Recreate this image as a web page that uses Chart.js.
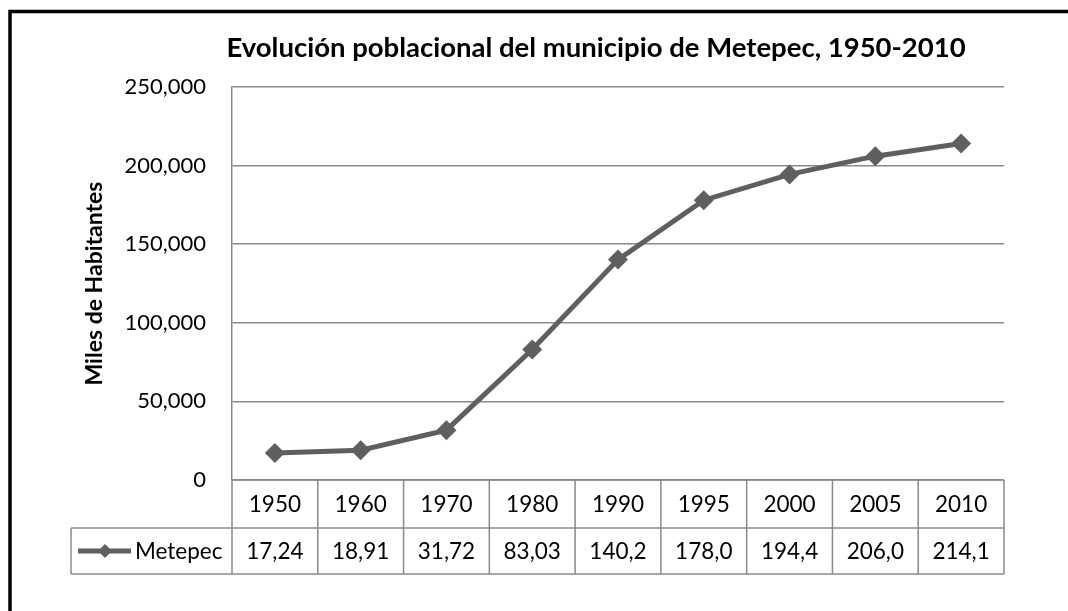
<!DOCTYPE html>
<html>
<head>
<meta charset="utf-8">
<script src="https://cdn.jsdelivr.net/npm/chart.js@4/dist/chart.umd.min.js"></script>
<style>
    html, body { margin: 0; padding: 0; background: #fff; }
    #wrap { width: 1068px; height: 611px; position: relative; }
</style>
</head>
<body>
<div id="wrap"><canvas id="chart"></canvas></div>
<script>
// Evolución poblacional del municipio de Metepec

const years = ['1950', '1960', '1970', '1980', '1990', '1995', '2000', '2005', '2010'];
const metepec = [17240, 18910, 31720, 83030, 140200, 178000, 194400, 206000, 214100];
// valores tal como aparecen (recortados) en la tabla de datos
const tableLabels = ['17,24', '18,91', '31,72', '83,03', '140,2', '178,0', '194,4', '206,0', '214,1'];
const yTicks = [0, 50000, 100000, 150000, 200000, 250000];

const TITLE = 'Evolución poblacional del municipio de Metepec, 1950-2010';
const FONT = 'Lato, "Open Sans", sans-serif';
const LINE_COLOR = '#5f5f5f';
const GRID_COLOR = '#8a8a8a';

// marco negro exterior + título (el gráfico original está recortado a la derecha,
// así que el título queda centrado sobre un ancho mayor que el visible)
const frame = {
    id: 'frame',
    beforeDraw(chart) {
        const ctx = chart.ctx;
        ctx.save();
        ctx.fillStyle = '#fff';
        ctx.fillRect(0, 0, chart.width, chart.height);
        ctx.strokeStyle = '#000';
        ctx.lineWidth = 3.5;
        ctx.beginPath();
        ctx.moveTo(10, chart.height + 5);
        ctx.lineTo(10, 11.5);
        ctx.lineTo(chart.width + 5, 11.5);
        ctx.stroke();

        ctx.fillStyle = '#000';
        ctx.font = 'bold 27.5px ' + FONT;
        ctx.textAlign = 'center';
        ctx.textBaseline = 'middle';
        ctx.fillText(TITLE, 596, 48);
        ctx.restore();
    }
};

// tabla de datos bajo el eje x (como en Excel)
const dataTable = {
    id: 'dataTable',
    afterDraw(chart) {
        const { ctx, chartArea } = chart;
        const x = chart.scales.x;
        const half = (x.getPixelForValue(1) - x.getPixelForValue(0)) / 2;
        const top = chartArea.bottom;
        const mid = top + 48;
        const bottom = mid + 46;
        const legendLeft = 71;

        ctx.save();
        ctx.strokeStyle = GRID_COLOR;
        ctx.lineWidth = 1.5;
        ctx.beginPath();
        ctx.moveTo(legendLeft, mid); ctx.lineTo(chartArea.right, mid);
        ctx.moveTo(legendLeft, bottom); ctx.lineTo(chartArea.right, bottom);
        ctx.moveTo(legendLeft, mid); ctx.lineTo(legendLeft, bottom);
        ctx.moveTo(chartArea.left, top); ctx.lineTo(chartArea.right, top);
        years.forEach((y, i) => {
            const edge = x.getPixelForValue(i) - half;
            ctx.moveTo(edge, top); ctx.lineTo(edge, bottom);
        });
        ctx.moveTo(chartArea.right, top); ctx.lineTo(chartArea.right, bottom);
        ctx.stroke();

        ctx.fillStyle = '#000';
        ctx.font = '22.5px ' + FONT;
        ctx.textAlign = 'center';
        ctx.textBaseline = 'middle';
        years.forEach((y, i) => {
            const cx = x.getPixelForValue(i);
            ctx.fillText(y, cx, (top + mid) / 2 + 1);
            ctx.fillText(tableLabels[i], cx, (mid + bottom) / 2 + 1);
        });

        // clave de la leyenda
        const ly = (mid + bottom) / 2;
        ctx.strokeStyle = LINE_COLOR;
        ctx.lineWidth = 5;
        ctx.beginPath();
        ctx.moveTo(78, ly); ctx.lineTo(131, ly);
        ctx.stroke();
        ctx.fillStyle = LINE_COLOR;
        ctx.beginPath();
        ctx.moveTo(105, ly - 7); ctx.lineTo(112, ly); ctx.lineTo(105, ly + 7); ctx.lineTo(98, ly);
        ctx.closePath();
        ctx.fill();
        ctx.fillStyle = '#000';
        ctx.textAlign = 'left';
        ctx.fillText('Metepec', 135, ly + 1);
        ctx.restore();
    }
};

new Chart(document.getElementById('chart'), {
    type: 'line',
    data: {
        labels: years,
        datasets: [{
            label: 'Metepec',
            data: metepec,
            borderColor: LINE_COLOR,
            backgroundColor: LINE_COLOR,
            borderWidth: 5,
            pointStyle: 'rectRot',
            pointRadius: 10,
            pointBorderWidth: 0,
            tension: 0
        }]
    },
    options: {
        responsive: true,
        maintainAspectRatio: false,
        animation: false,
        layout: { padding: { left: 0, right: 64, top: 87, bottom: 131 } },
        plugins: {
            legend: { display: false },
            tooltip: { enabled: false },
            title: { display: false }
        },
        scales: {
            x: {
                type: 'category',
                offset: true,
                display: false
            },
            y: {
                min: 0,
                max: 250000,
                afterBuildTicks: (axis) => { axis.ticks = yTicks.map(v => ({ value: v })); },
                afterFit: (axis) => { axis.width = 232; },
                grid: { color: GRID_COLOR, lineWidth: 1.5, drawTicks: false },
                border: { display: true, color: GRID_COLOR, width: 1.5 },
                ticks: {
                    color: '#000',
                    padding: 26,
                    font: { family: FONT, size: 22 },
                    callback: (v) => v.toLocaleString('en-US')
                },
                title: {
                    display: true,
                    text: 'Miles de Habitantes',
                    color: '#000',
                    font: { family: FONT, size: 23, weight: 'bold' },
                    padding: { top: 81, bottom: 0 }
                }
            }
        }
    },
    plugins: [frame, dataTable]
});
</script>
</body>
</html>
